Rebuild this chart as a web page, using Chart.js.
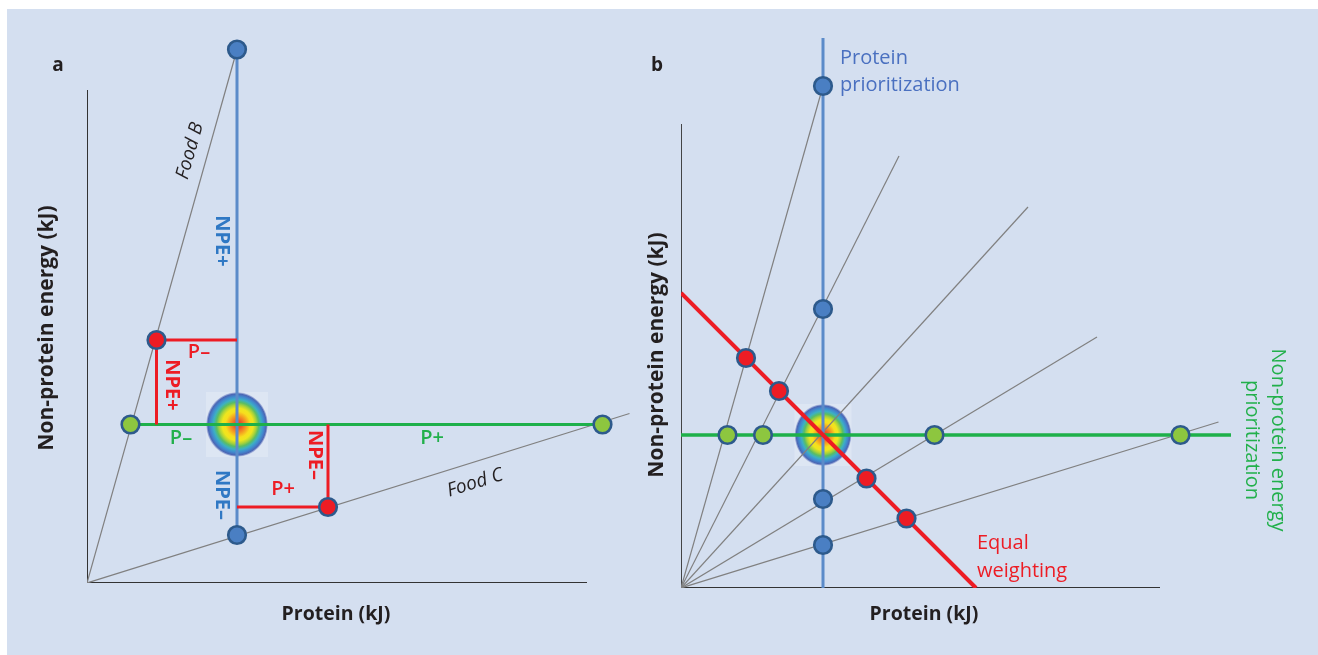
<!DOCTYPE html>
<html>
<head>
<meta charset="utf-8">
<script src="https://cdn.jsdelivr.net/npm/chart.js@4.4.1/dist/chart.umd.min.js"></script>
<style>
  html, body { margin: 0; padding: 0; background: #ffffff; }
  #frame { position: absolute; left: 7px; top: 9px; width: 1311px; height: 646px; background: #d4dff0; }
  #ca { position: absolute; left: 0; top: 0; }
  #cb { position: absolute; left: 600px; top: 0; }
</style>
</head>
<body>
<div id="frame"></div>
<canvas id="ca" width="660" height="655"></canvas>
<canvas id="cb" width="718" height="655"></canvas>
<script>
// ---------- Panel a: two foods, one intake target ----------
const aAxisEnd    = [100, 98.6];                 // end of protein axis, end of NPE axis
const aTarget     = [30, 31.7];                  // intake target (protein, NPE)
const aFoodB      = [[0, 0], [30, 106.7]];       // food B rail
const aFoodC      = [[0, 0], [108.5, 33.9]];     // food C rail
const aProtLine   = [[30, 106.7], [30, 9.6]];    // protein-target line
const aNpeLine    = [[8.7, 31.7], [103.1, 31.7]];// NPE-target line
const aBluePts    = [[30, 106.7], [30, 9.6]];
const aGreenPts   = [[8.7, 31.7], [103.1, 31.7]];
const aRedPts     = [[13.9, 48.6], [48.2, 15.2]];
const aStepHigh   = [[30, 48.6], [13.9, 48.6], [13.9, 31.7]];
const aStepLow    = [[30, 15.2], [48.2, 15.2], [48.2, 31.7]];

// ---------- Panel b: rules of compromise ----------
const bAxisEnd    = [95.8, 92.8];
const bTarget     = [28.4, 30.6];
const bRayEnds    = [[28.4, 100.4], [43.6, 86.4], [69.4, 76.2], [83.2, 50.2], [107.5, 33.2]];
const bProtLine   = [[28.4, 110], [28.4, 0]];
const bNpeLine    = [[0, 30.6], [110, 30.6]];
const bEqualLine  = [[0, 59], [59, 0]];
const bBluePts    = [[28.4, 100.4], [28.4, 55.8], [28.4, 17.8], [28.4, 8.6]];
const bGreenPts   = [[9.3, 30.6], [16.4, 30.6], [50.7, 30.6], [99.9, 30.6]];
const bRedPts     = [[13, 46], [19.6, 39.4], [37.1, 21.9], [45.1, 13.9]];

// ---------- styling ----------
const FONT = '"Open Sans", "Noto Sans", sans-serif';
const C = {
  blueLine: '#5b8bc9', bluePt: '#4a7fc3', edge: '#2d5a8c',
  greenLine: '#1eb04a', greenPt: '#8dc63f', red: '#ed1c24',
  ray: '#808080', axis: '#333333', text: '#231f20',
  blueTxtA: '#2f78c4', blueTxtB: '#4a70c0', greenTxt: '#22b04b'
};

const xy = arr => arr.map(p => ({ x: p[0], y: p[1] }));

function line(data, color, width, order) {
  return { data: xy(data), showLine: true, borderColor: color, borderWidth: width,
           pointRadius: 0, pointHoverRadius: 0, order: order, borderCapStyle: 'butt' };
}
function dots(data, fill, order) {
  return { data: xy(data), showLine: false, pointRadius: 8.8, pointHoverRadius: 8.8,
           pointBorderWidth: 2.6, pointHoverBorderWidth: 2.6,
           pointBackgroundColor: fill, pointBorderColor: C.edge, order: order };
}
function axes(end, width) {
  return [
    line([[0, 0], [end[0], 0]], C.axis, width, 50),
    line([[0, 0], [0, end[1]]], C.axis, width, 50)
  ];
}

// target blob: concentric colour bands on a pale square
function blobPlugin(center, rx, ry) {
  return {
    id: 'targetBlob',
    beforeDatasetsDraw(chart) {
      const { ctx, scales: { x, y } } = chart;
      const cx = x.getPixelForValue(center[0]);
      const cy = y.getPixelForValue(center[1]);
      ctx.save();
      ctx.fillStyle = '#dde6f3';
      ctx.fillRect(cx - rx, cy - ry, rx * 2, ry * 2);
      ctx.translate(cx, cy);
      ctx.scale(1, ry / rx);
      const g = ctx.createRadialGradient(rx * 0.05, 0, 0, 0, 0, rx);
      g.addColorStop(0.00, '#e3402b');
      g.addColorStop(0.12, '#ea5a29');
      g.addColorStop(0.26, '#f49a22');
      g.addColorStop(0.40, '#f7de1e');
      g.addColorStop(0.50, '#eee61e');
      g.addColorStop(0.60, '#a9d23a');
      g.addColorStop(0.68, '#5bbd63');
      g.addColorStop(0.77, '#3cb0c4');
      g.addColorStop(0.86, '#4189cf');
      g.addColorStop(0.94, '#4b66b4');
      g.addColorStop(1.00, 'rgba(95,115,190,0.15)');
      ctx.fillStyle = g;
      ctx.beginPath();
      ctx.arc(0, 0, rx, 0, Math.PI * 2);
      ctx.fill();
      ctx.restore();
    }
  };
}

// free text anchored at data coordinates
function textPlugin(items) {
  return {
    id: 'panelText',
    afterDatasetsDraw(chart) {
      const { ctx, scales: { x, y } } = chart;
      items.forEach(it => {
        ctx.save();
        ctx.translate(x.getPixelForValue(it.x), y.getPixelForValue(it.y));
        ctx.rotate((it.rot || 0) * Math.PI / 180);
        ctx.font = `${it.style || 'normal'} ${it.weight || 'normal'} ${it.size}px ${FONT}`;
        ctx.fillStyle = it.color;
        ctx.textAlign = it.align || 'center';
        ctx.textBaseline = 'middle';
        ctx.fillText(it.t, 0, 0);
        ctx.restore();
      });
    }
  };
}

function baseOptions(max, pad) {
  return {
    responsive: false, animation: false, events: [],
    layout: { padding: pad },
    plugins: { legend: { display: false }, tooltip: { enabled: false } },
    scales: {
      x: { type: 'linear', display: false, min: 0, max: max },
      y: { type: 'linear', display: false, min: 0, max: max }
    }
  };
}

// ---------- panel a ----------
const aLabels = [
  { t: 'a', x: -5.8, y: 103.4, size: 19, weight: 'bold', color: C.text },
  { t: 'Non-protein energy (kJ)', x: -8, y: 51, rot: -90, size: 21, weight: 'bold', color: C.text },
  { t: 'Protein (kJ)', x: 49.8, y: -6.2, size: 19.5, weight: 'bold', color: C.text },
  { t: 'Food B', x: 20.6, y: 86.4, rot: -74.3, size: 19, style: 'italic', color: C.text },
  { t: 'Food C', x: 77.6, y: 20, rot: -17.4, size: 19, style: 'italic', color: C.text },
  { t: 'NPE+', x: 27, y: 68.4, rot: 90, size: 20, weight: 'bold', color: C.blueTxtA },
  { t: 'NPE\u2013', x: 27, y: 17.6, rot: 90, size: 20, weight: 'bold', color: C.blueTxtA },
  { t: 'P\u2013', x: 22.4, y: 46.2, size: 20, weight: '600', color: C.red },
  { t: 'NPE+', x: 17, y: 39.6, rot: 90, size: 20, weight: 'bold', color: C.red },
  { t: 'P\u2013', x: 18.8, y: 29, size: 20, weight: '600', color: C.greenTxt },
  { t: 'P+', x: 39.2, y: 18.8, size: 20, weight: '600', color: C.red },
  { t: 'NPE\u2013', x: 45.6, y: 25.6, rot: 90, size: 20, weight: 'bold', color: C.red },
  { t: 'P+', x: 69, y: 29, size: 20, weight: '600', color: C.greenTxt }
];

new Chart(document.getElementById('ca'), {
  type: 'scatter',
  data: {
    datasets: [
      dots(aRedPts, C.red, 0),
      dots(aGreenPts, C.greenPt, 0),
      dots(aBluePts, C.bluePt, 0),
      line(aStepHigh, C.red, 3, 10),
      line(aStepLow, C.red, 3, 10),
      line(aNpeLine, C.greenLine, 3, 11),
      line(aProtLine, C.blueLine, 3, 12),
      line(aFoodB, C.ray, 1.2, 20),
      line(aFoodC, C.ray, 1.2, 20),
      ...axes(aAxisEnd, 2)
    ]
  },
  options: baseOptions(110.6, { left: 87, right: 20, top: 30, bottom: 72 }),
  plugins: [blobPlugin(aTarget, 31, 32.5), textPlugin(aLabels)]
});

// ---------- panel b ----------
const bLabels = [
  { t: 'b', x: -4.8, y: 104.4, size: 19, weight: 'bold', color: C.text },
  { t: 'Non-protein energy (kJ)', x: -4.8, y: 46.6, rot: -90, size: 21, weight: 'bold', color: C.text },
  { t: 'Protein (kJ)', x: 48.6, y: -5.2, size: 19.5, weight: 'bold', color: C.text },
  { t: 'Protein', x: 31.8, y: 106, size: 20, align: 'left', color: C.blueTxtB },
  { t: 'prioritization', x: 31.8, y: 100.6, size: 20, align: 'left', color: C.blueTxtB },
  { t: 'Equal', x: 59.2, y: 9, size: 20, align: 'left', color: C.red },
  { t: 'weighting', x: 59.2, y: 3.4, size: 20, align: 'left', color: C.red },
  { t: 'Non-protein energy', x: 119.4, y: 29.6, rot: 90, size: 20, color: C.greenTxt },
  { t: 'prioritization', x: 114.2, y: 29.6, rot: 90, size: 20, color: C.greenTxt }
];

const bRays = bRayEnds.map(e => line([[0, 0], e], C.ray, 1.2, 20));

new Chart(document.getElementById('cb'), {
  type: 'scatter',
  data: {
    datasets: [
      dots(bRedPts, C.red, 0),
      dots(bGreenPts, C.greenPt, 0),
      dots(bBluePts, C.bluePt, 0),
      line(bEqualLine, C.red, 4, 10),
      line(bNpeLine, C.greenLine, 3.5, 11),
      line(bProtLine, C.blueLine, 3, 12),
      ...bRays,
      ...axes(bAxisEnd, 1.8)
    ]
  },
  options: baseOptions(112, { left: 81, right: 77, top: 28, bottom: 67 }),
  plugins: [blobPlugin(bTarget, 28.5, 31), textPlugin(bLabels)]
});
</script>
</body>
</html>
